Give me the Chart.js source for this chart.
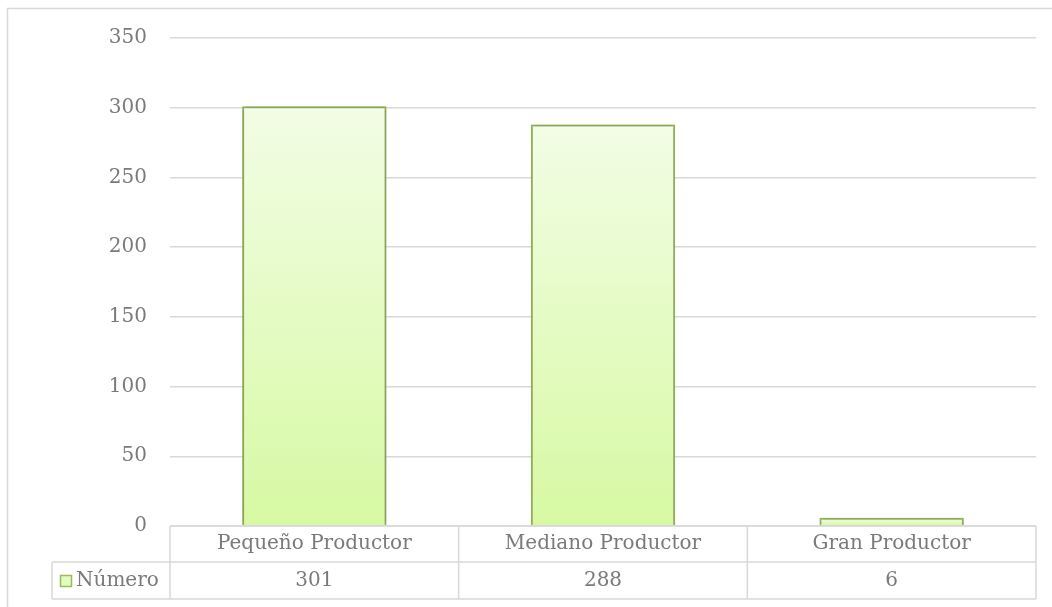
<!DOCTYPE html>
<html>
<head>
<meta charset="utf-8">
<script src="https://cdn.jsdelivr.net/npm/chart.js@4"></script>
<style>
  html, body { margin: 0; padding: 0; background: #fff; }
  #wrap { width: 1052px; height: 607px; position: relative; }
</style>
</head>
<body>
<div id="wrap"><canvas id="chart" width="1052" height="607"></canvas></div>
<script>
const categories = ['Pequeño Productor', 'Mediano Productor', 'Gran Productor'];
const seriesName = 'Número';
const values = [301, 288, 6];
const yTicks = [0, 50, 100, 150, 200, 250, 300, 350];

const FONT = "'DejaVu Serif', serif";
const TEXT = '#7a7a7a';
const LINE = '#d9d9d9';
const GREEN = '#9bbb59';

// gradient for each bar, light at the top, darker at the base
function barFill(ctx) {
    const chart = ctx.chart;
    if (!chart.chartArea || ctx.type !== 'data') return '#e4fbc4';
    const y = chart.scales.y;
    const top = y.getPixelForValue(ctx.raw);
    const bottom = y.getPixelForValue(0);
    const g = chart.ctx.createLinearGradient(0, top, 0, bottom);
    g.addColorStop(0, '#f2fde5');
    g.addColorStop(1, '#d7f9a3');
    return g;
}

// soft shadow around the bars
const barShadow = {
    id: 'barShadow',
    beforeDatasetsDraw(chart) {
        const c = chart.ctx;
        c.save();
        c.shadowColor = 'rgba(0,0,0,0.28)';
        c.shadowBlur = 4;
    },
    afterDatasetsDraw(chart) {
        chart.ctx.restore();
    }
};

// frame + data table under the plot
const dataTable = {
    id: 'dataTable',
    afterDraw(chart) {
        const c = chart.ctx;
        const area = chart.chartArea;
        const x = chart.scales.x;
        const n = categories.length;
        const colW = (area.right - area.left) / n;
        const row1 = area.bottom;
        const row2 = row1 + 36;
        const row3 = row2 + 37;
        const legLeft = 52;

        c.save();
        // outer frame (cut by the picture at right and bottom)
        c.strokeStyle = LINE;
        c.lineWidth = 1.5;
        c.beginPath();
        c.moveTo(7.5, 607);
        c.lineTo(7.5, 8.5);
        c.lineTo(1052, 8.5);
        c.stroke();

        // table lines
        c.beginPath();
        c.moveTo(area.left, row1); c.lineTo(area.right, row1);
        c.moveTo(legLeft, row2); c.lineTo(area.right, row2);
        c.moveTo(legLeft, row3); c.lineTo(area.right, row3);
        c.moveTo(legLeft, row2); c.lineTo(legLeft, row3);
        for (let i = 0; i <= n; i++) {
            const lx = area.left + colW * i;
            c.moveTo(lx, row1); c.lineTo(lx, row3);
        }
        c.stroke();

        // text
        c.fillStyle = TEXT;
        c.font = '20px ' + FONT;
        c.textAlign = 'center';
        c.textBaseline = 'middle';
        categories.forEach((cat, i) => {
            const cx = x.getPixelForValue(i);
            c.fillText(cat, cx, (row1 + row2) / 2);
            c.fillText(String(values[i]), cx, (row2 + row3) / 2);
        });

        // legend key
        c.fillStyle = '#e2fbbf';
        c.fillRect(60, 575, 12, 12);
        c.strokeStyle = GREEN;
        c.lineWidth = 1.5;
        c.strokeRect(60.5, 575.5, 11, 11);
        c.fillStyle = TEXT;
        c.textAlign = 'left';
        c.fillText(seriesName, 76, (row2 + row3) / 2);
        c.restore();
    }
};

new Chart(document.getElementById('chart').getContext('2d'), {
    type: 'bar',
    data: {
        labels: categories,
        datasets: [{
            label: seriesName,
            data: values,
            backgroundColor: barFill,
            borderColor: GREEN,
            borderWidth: 2,
            barPercentage: 0.5,
            categoryPercentage: 1.0
        }]
    },
    options: {
        responsive: false,
        animation: false,
        layout: { padding: { left: 0, right: 16, top: 38, bottom: 81 } },
        plugins: {
            legend: { display: false },
            tooltip: { enabled: false }
        },
        scales: {
            x: { display: false },
            y: {
                min: 0,
                max: 350,
                afterFit: s => { s.width = 170; },
                afterBuildTicks: s => { s.ticks = yTicks.map(v => ({ value: v })); },
                border: { display: false },
                grid: { color: LINE, lineWidth: 1.5, drawTicks: false },
                ticks: {
                    padding: 23,
                    color: TEXT,
                    font: { family: FONT, size: 20 }
                }
            }
        }
    },
    plugins: [barShadow, dataTable]
});
</script>
</body>
</html>
